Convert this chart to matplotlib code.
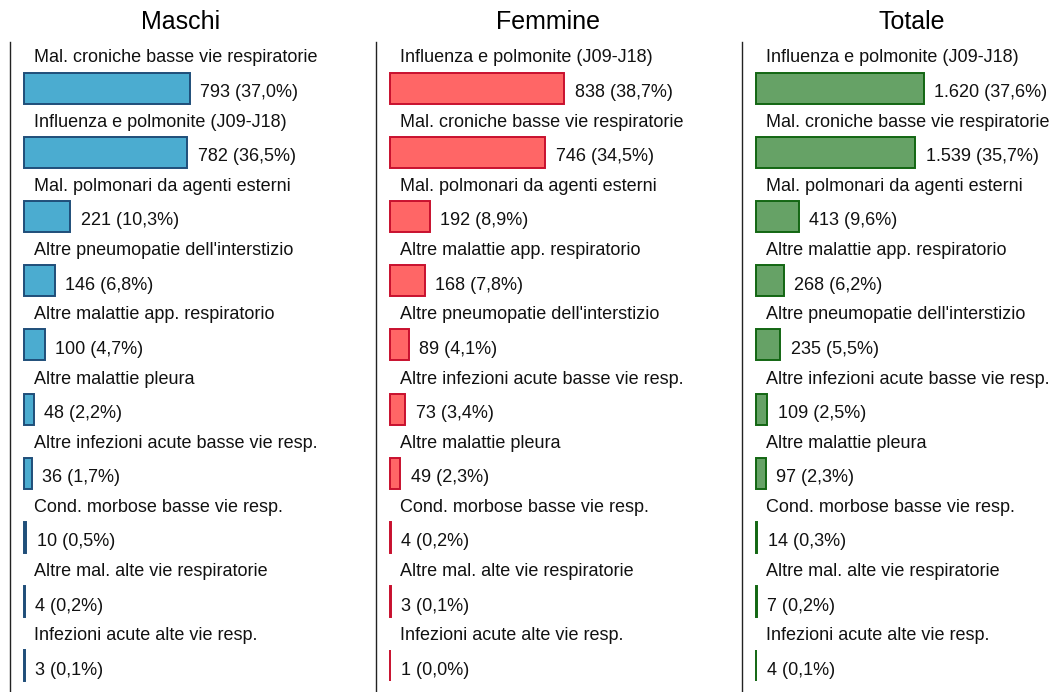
import matplotlib
matplotlib.use("Agg")
import matplotlib.pyplot as plt

plt.rcParams['font.family'] = ['Liberation Sans', 'DejaVu Sans']

titles = ["Maschi", "Femmine", "Totale"]

cat_m = ["Mal. croniche basse vie respiratorie", "Influenza e polmonite (J09-J18)",
         "Mal. polmonari da agenti esterni", "Altre pneumopatie dell'interstizio",
         "Altre malattie app. respiratorio", "Altre malattie pleura",
         "Altre infezioni acute basse vie resp.", "Cond. morbose basse vie resp.",
         "Altre mal. alte vie respiratorie", "Infezioni acute alte vie resp."]
val_m = [793, 782, 221, 146, 100, 48, 36, 10, 4, 3]
pct_m = [37.0, 36.5, 10.3, 6.8, 4.7, 2.2, 1.7, 0.5, 0.2, 0.1]

cat_f = ["Influenza e polmonite (J09-J18)", "Mal. croniche basse vie respiratorie",
         "Mal. polmonari da agenti esterni", "Altre malattie app. respiratorio",
         "Altre pneumopatie dell'interstizio", "Altre infezioni acute basse vie resp.",
         "Altre malattie pleura", "Cond. morbose basse vie resp.",
         "Altre mal. alte vie respiratorie", "Infezioni acute alte vie resp."]
val_f = [838, 746, 192, 168, 89, 73, 49, 4, 3, 1]
pct_f = [38.7, 34.5, 8.9, 7.8, 4.1, 3.4, 2.3, 0.2, 0.1, 0.0]

cat_t = ["Influenza e polmonite (J09-J18)", "Mal. croniche basse vie respiratorie",
         "Mal. polmonari da agenti esterni", "Altre malattie app. respiratorio",
         "Altre pneumopatie dell'interstizio", "Altre infezioni acute basse vie resp.",
         "Altre malattie pleura", "Cond. morbose basse vie resp.",
         "Altre mal. alte vie respiratorie", "Infezioni acute alte vie resp."]
val_t = [1620, 1539, 413, 268, 235, 109, 97, 14, 7, 4]
pct_t = [37.6, 35.7, 9.6, 6.2, 5.5, 2.5, 2.3, 0.3, 0.2, 0.1]

fills = ["#4bacd0", "#ff6666", "#66a266"]
edges = ["#1f4e79", "#c8102e", "#126612"]

W, H = 1051, 692
fig = plt.figure(figsize=(W / 100, H / 100), dpi=100)

panels = [(cat_m, val_m, pct_m), (cat_f, val_f, pct_f), (cat_t, val_t, pct_t)]
lefts_px = [10, 376, 742]
scales = [0.209, 0.208, 0.1035]   # px per unit
title_x = [181, 548, 912]
ax_w_px = 340
top_px, bot_px = 42, 692
pitch = 64.2
first_center = 88
bar_h = 31 / pitch


def fmt_int(v):
    return f"{v:,}".replace(",", ".")


def fmt_pct(p):
    return f"{p:.1f}".replace(".", ",")


for k, (cats, vals, pcts) in enumerate(panels):
    ax = fig.add_axes([lefts_px[k] / W, 0, ax_w_px / W, (H - top_px) / H])
    s = scales[k]
    xmin = -14 / s
    ax.set_xlim(xmin, xmin + ax_w_px / s)
    ytop = (top_px - first_center) / pitch
    ybot = (bot_px - first_center) / pitch
    ax.set_ylim(ybot, ytop)
    ys = list(range(len(vals)))
    ax.barh(ys, vals, height=bar_h, color=fills[k], edgecolor=edges[k], linewidth=1.4)
    for y, c, v, p in zip(ys, cats, vals, pcts):
        ax.text(10 / s, y - 30 / pitch, c, fontsize=13, va='center', ha='left',
                color='#111111', clip_on=False)
        lab = f"{fmt_int(v)} ({fmt_pct(p)}%)"
        ax.annotate(lab, (v, y), xytext=(7.5, -3.2), textcoords='offset points',
                    fontsize=13, va='center', ha='left', color='#111111',
                    annotation_clip=False)
    for sp in ['top', 'right', 'bottom']:
        ax.spines[sp].set_visible(False)
    ax.spines['left'].set_color('#222222')
    ax.spines['left'].set_linewidth(1.0)
    ax.set_xticks([])
    ax.set_yticks([])
    ax.patch.set_alpha(0)
    fig.text(title_x[k] / W, 1 - 22 / H, titles[k], fontsize=18, ha='center', va='center')

fig.savefig("out.png", dpi=100)
